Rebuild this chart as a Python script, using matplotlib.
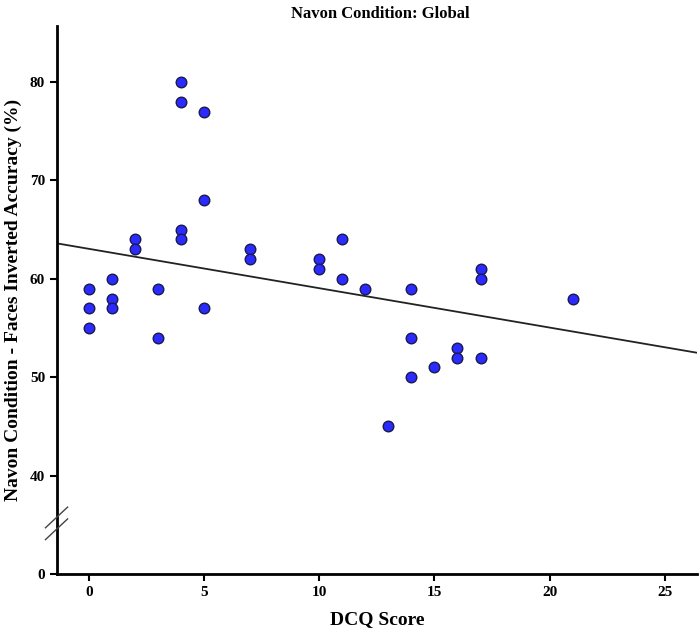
import numpy as np
import matplotlib.pyplot as plt

# DCQ score vs. accuracy (%)
dcq = [0, 0, 0, 1, 1, 1, 2, 2, 3, 3, 4, 4, 4, 4, 5, 5, 5, 7, 7,
       10, 10, 11, 11, 12, 13, 14, 14, 14, 15, 16, 16, 17, 17, 17, 21]
acc = [59, 57, 55, 60, 58, 57, 64, 63, 59, 54, 80, 78, 65, 64, 77, 68, 57, 63, 62,
       62, 61, 64, 60, 59, 45, 59, 54, 50, 51, 53, 52, 61, 60, 52, 58]
yticks = [0, 40, 50, 60, 70, 80]
xticks = [0, 5, 10, 15, 20, 25]
# fit line as drawn in the chart
fit_intercept = 63.05
fit_slope = -0.40

# broken y axis: 0 is drawn where 30 would be
def ymap(v):
    v = np.asarray(v, dtype=float)
    return np.where(v <= 0, 30.0, v)

plt.rcParams['font.family'] = ['Liberation Serif', 'DejaVu Serif']
plt.rcParams['font.weight'] = 'bold'

fig = plt.figure(figsize=(7, 6.34), dpi=100)
ax = fig.add_axes([0.0814, 0.0946, 0.9143, 0.8644])

x = np.array(dcq)
y = np.array(acc)
ax.scatter(x, ymap(y), s=58, color='#2b2bff', edgecolors='#1a1a4a', linewidths=1.0, zorder=3)

xs = np.array([-1.4, 26.5])
ax.plot(xs, fit_intercept + fit_slope * xs, color='#222222', lw=1.3, zorder=2)

ax.set_xlim(-1.39, 26.4)
ax.set_ylim(30, 85.7)
ax.set_xticks(xticks)
ax.set_yticks(ymap(yticks))
ax.set_yticklabels([str(t) for t in yticks])

for s in ['top', 'right']:
    ax.spines[s].set_visible(False)
for s in ['left', 'bottom']:
    ax.spines[s].set_linewidth(2)
ax.tick_params(direction='out', length=5, width=1.5, labelsize=11)

# break marks on the y axis
for y0 in (34.7, 33.5):
    ax.plot([-1.89, -0.93], [y0, y0 + 2.1], color='#444444', lw=1,
            clip_on=False, zorder=4)

ax.set_xlabel('DCQ Score', fontsize=14, fontweight='bold', labelpad=9)
ax.set_ylabel('Navon Condition - Faces Inverted Accuracy (%)', fontsize=14,
              fontweight='bold', labelpad=6)
fig.text(0.543, 0.978, 'Navon Condition: Global', ha='center', va='center',
         fontsize=12, fontweight='bold')

fig.savefig('out.png', dpi=100)
